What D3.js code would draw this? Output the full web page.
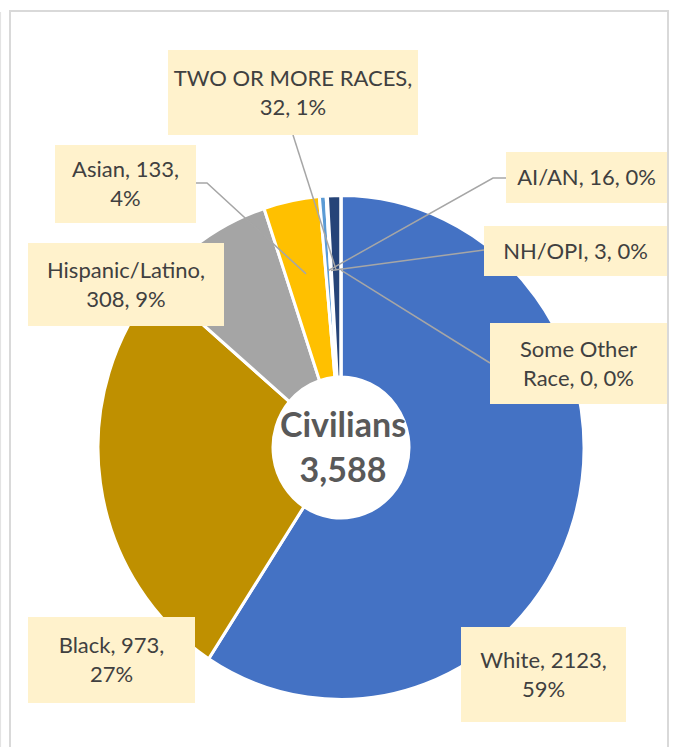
<!DOCTYPE html>
<html>
<head>
<meta charset="utf-8">
<script src="https://cdn.jsdelivr.net/npm/d3@7"></script>
<style>
  html, body { margin: 0; padding: 0; background: #fff; }
  svg { display: block; }
</style>
</head>
<body>
<svg id="chart"></svg>
<script>
// data (clockwise from 12 o'clock)
const races = ["White", "Black", "Hispanic/Latino", "Asian", "AI/AN", "NH/OPI", "TWO OR MORE RACES", "Some Other Race"];
const counts = [2123, 973, 308, 133, 16, 3, 32, 0];
const sliceColors = ["#4472C4", "#BF9000", "#A5A5A5", "#FFC000", "#5B9BD5", "#70AD47", "#264478", "#9E480E"];
const centerTitle = "Civilians";

// label boxes: x, y, w, h, words on first line, leader path start points
const labelLayout = {
  "White":             { x: 461, y: 627, w: 165, h: 95, brk: 2 },
  "Black":             { x: 28,  y: 617, w: 167, h: 86, brk: 2 },
  "Hispanic/Latino":   { x: 28,  y: 243, w: 196, h: 83, brk: 1 },
  "Asian":             { x: 55,  y: 145, w: 141, h: 78, brk: 2, lead: [[196, 183], [207, 183]] },
  "AI/AN":             { x: 506, y: 152, w: 161, h: 51, brk: 9, lead: [[506, 178], [493, 178]] },
  "NH/OPI":            { x: 484, y: 226, w: 183, h: 50, brk: 9, lead: [[484, 250]] },
  "TWO OR MORE RACES": { x: 168, y: 50,  w: 250, h: 85, brk: 4, lead: [[293, 135]] },
  "Some Other Race":   { x: 490, y: 323, w: 177, h: 81, brk: 2, lead: [[490, 363]] }
};

const svgWidth = 675;
const svgHeight = 747;
const cx = 341, cy = 447.5;
const rOuter = 243, rInner = 68, rLead = 171;
const yStretch = 1.037;

const svg = d3.select("#chart")
  .attr("width", svgWidth)
  .attr("height", svgHeight)
  .style("font-family", "Lato, 'Open Sans', sans-serif");

// frame
svg.append("line")
  .attr("x1", 0.5).attr("x2", 0.5).attr("y1", 12).attr("y2", svgHeight)
  .attr("stroke", "#E3E3E3").attr("stroke-width", 1.2);
svg.append("rect")
  .attr("x", 10).attr("y", 11)
  .attr("width", 658).attr("height", 760)
  .attr("fill", "none")
  .attr("stroke", "#D9D9D9").attr("stroke-width", 2);

const data = races.map((r, i) => ({ name: r, value: counts[i], color: sliceColors[i] }));
const total = d3.sum(counts);

const pie = d3.pie().sort(null).value(d => d.value);
const arcs = pie(data);

const arc = d3.arc().innerRadius(rInner).outerRadius(rOuter);
const leadArc = d3.arc().innerRadius(rLead).outerRadius(rLead);

const g = svg.append("g").attr("transform", `translate(${cx},${cy}) scale(1,${yStretch})`);

g.selectAll("path.slice")
  .data(arcs)
  .enter().append("path")
  .attr("class", "slice")
  .attr("d", arc)
  .attr("fill", d => d.data.color)
  .attr("stroke", "#fff")
  .attr("stroke-width", 3)
  .attr("stroke-linejoin", "round");

// center text
svg.append("text")
  .attr("x", cx + 2).attr("y", 437)
  .attr("text-anchor", "middle")
  .attr("fill", "#595959")
  .style("font-weight", "bold")
  .style("font-size", "34px")
  .text(centerTitle);
svg.append("text")
  .attr("x", cx + 2).attr("y", 482)
  .attr("text-anchor", "middle")
  .attr("fill", "#595959")
  .style("font-weight", "bold")
  .style("font-size", "34px")
  .text(d3.format(",")(total));

// leader lines
const leaders = svg.append("g");
arcs.forEach(d => {
  const lay = labelLayout[d.data.name];
  if (!lay.lead) return;
  const [px, py] = leadArc.centroid(d);
  const pts = lay.lead.concat([[cx + px, cy + py * yStretch]]);
  leaders.append("path")
    .attr("d", d3.line()(pts))
    .attr("fill", "none")
    .attr("stroke", "#A6A6A6")
    .attr("stroke-width", 1.5);
});

// labels
const lineH = 29;
arcs.forEach(d => {
  const lay = labelLayout[d.data.name];
  const pct = Math.round(d.data.value / total * 100);
  const words = `${d.data.name}, ${d.data.value}, ${pct}%`.split(" ");
  const lines = [words.slice(0, lay.brk).join(" "), words.slice(lay.brk).join(" ")].filter(s => s.length);

  const lbl = svg.append("g");
  lbl.append("rect")
    .attr("x", lay.x).attr("y", lay.y)
    .attr("width", lay.w).attr("height", lay.h)
    .attr("fill", "#FFF2CC");

  const midY = lay.y + lay.h / 2;
  lines.forEach((t, i) => {
    lbl.append("text")
      .attr("x", lay.x + lay.w / 2)
      .attr("y", midY + (i - (lines.length - 1) / 2) * lineH)
      .attr("dy", "0.36em")
      .attr("text-anchor", "middle")
      .attr("fill", "#404040")
      .style("font-size", "22px")
      .text(t);
  });
});
</script>
</body>
</html>
